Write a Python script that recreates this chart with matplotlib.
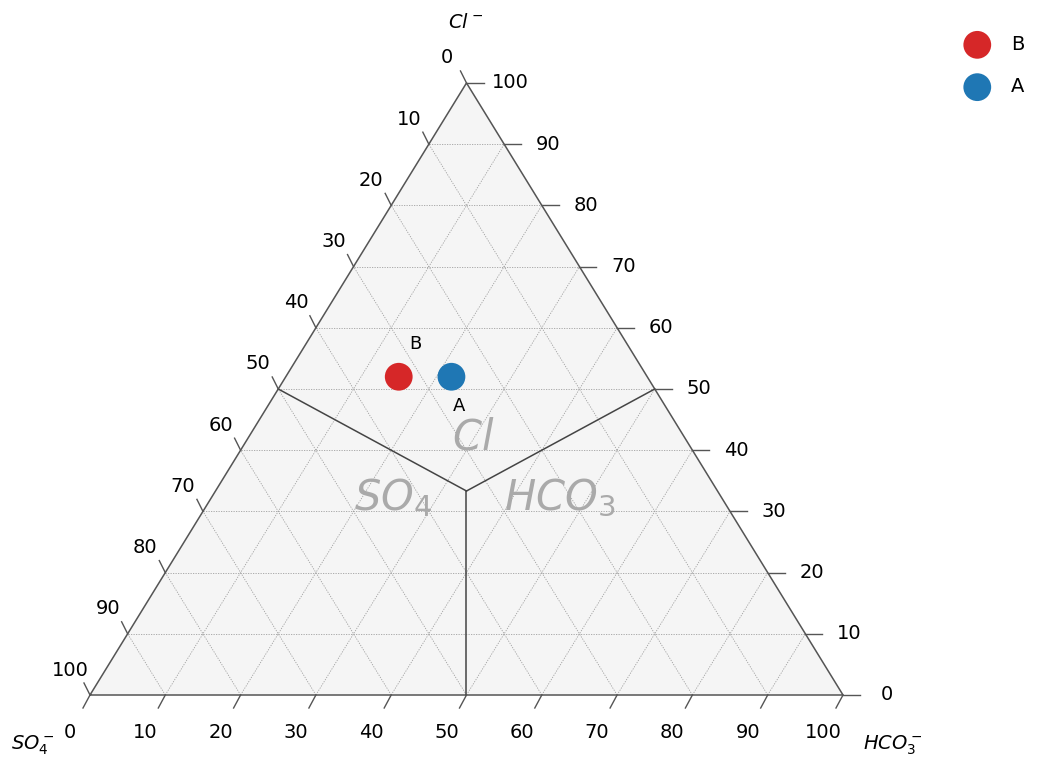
import numpy as np
import matplotlib.pyplot as plt

# sample composition (%), order: Cl, SO4, HCO3
names = ['B', 'A']
cl = [52, 52]
so4 = [33, 26]
hco3 = [15, 22]
colors = ['#d62728', '#1f77b4']
label_offsets = [(17, 33), (8, -29)]  # pixel offsets for point labels

ticks = list(range(0, 101, 10))
H = np.sqrt(3) / 2


def to_xy(c, s, h):
    # bottom axis = HCO3 (left->right), top vertex = Cl
    tot = c + s + h
    c, h = 100.0 * c / tot, 100.0 * h / tot
    return h + c / 2, c * H


fig = plt.figure(figsize=(10.37, 7.58), dpi=100)
ax = fig.add_axes([0, 0, 1, 1])
ax.set_xlim(-90 / 7.53, (1037 - 90) / 7.53)
ax.set_ylim(-(758 - 695) / 7.067, 695 / 7.067)
ax.axis('off')

# triangle
tri_x = [0, 100, 50, 0]
tri_y = [0, 0, 100 * H, 0]
ax.fill(tri_x, tri_y, color='#f5f5f5', zorder=0)

# grid lines
for v in ticks[1:-1]:
    kw = dict(color='#a0a0a0', lw=0.6, ls=(0, (1.5, 1.5)), zorder=1)
    # constant Cl (horizontal)
    ax.plot(*zip(to_xy(v, 100 - v, 0), to_xy(v, 0, 100 - v)), **kw)
    # constant HCO3
    ax.plot(*zip(to_xy(0, 100 - v, v), to_xy(100 - v, 0, v)), **kw)
    # constant SO4
    ax.plot(*zip(to_xy(0, v, 100 - v), to_xy(100 - v, v, 0)), **kw)

ax.plot(tri_x, tri_y, color='#555555', lw=1.1, zorder=2)

# facies boundaries
cx, cy = to_xy(1, 1, 1)
for p in [to_xy(50, 50, 0), to_xy(50, 0, 50), to_xy(0, 50, 50)]:
    ax.plot([cx, p[0]], [cy, p[1]], color='#444444', lw=1.1, zorder=2)

ax.text(50.9, 36.5, '$Cl$', fontsize=30, color='#aaaaaa',
        ha='center', va='center', zorder=2)
ax.text(40.2, 27.9, '$SO_4$', fontsize=30, color='#aaaaaa',
        ha='center', va='center', zorder=2)
ax.text(62.4, 27.9, '$HCO_3$', fontsize=30, color='#aaaaaa',
        ha='center', va='center', zorder=2)

# ticks and tick labels
tick_kw = dict(color='#555555', lw=1.0, clip_on=False)
for v in ticks:
    # bottom: HCO3
    x, y = to_xy(0, 100 - v, v)
    ax.plot([x, x - 0.93], [y, y - 1.84], **tick_kw)
    ax.annotate(str(v), (x, y), xytext=(-20, -38), textcoords='offset pixels',
                ha='center', va='center', fontsize=14)
    # left: SO4
    x, y = to_xy(100 - v, v, 0)
    ax.plot([x, x - 0.8], [y, y + 1.7], **tick_kw)
    ax.annotate(str(v), (x, y), xytext=(-20, 25), textcoords='offset pixels',
                ha='center', va='center', fontsize=14)
    # right: Cl
    x, y = to_xy(v, 0, 100 - v)
    ax.plot([x, x + 2.26], [y, y], **tick_kw)
    ax.annotate(str(v), (x, y), xytext=(44, 0), textcoords='offset pixels',
                ha='center', va='center', fontsize=14)

# axis titles
fig.text(466 / 1037, 1 - 22 / 758, '$Cl^-$', fontsize=14, ha='center', va='center')
fig.text(33 / 1037, 1 - 745 / 758, '$SO_4^-$', fontsize=14, ha='center', va='center')
fig.text(893 / 1037, 1 - 745 / 758, '$HCO_3^-$', fontsize=14, ha='center', va='center')

# samples
for n, c, s, h, col, off in zip(names, cl, so4, hco3, colors, label_offsets):
    x, y = to_xy(c, s, h)
    ax.scatter([x], [y], s=400, color=col, label=n, zorder=5, edgecolors='none')
    ax.annotate(n, (x, y), xytext=off, textcoords='offset pixels',
                ha='center', va='center', fontsize=13, zorder=6)

fig.legend(loc='upper right', bbox_to_anchor=(1.005, 0.977), frameon=False,
           fontsize=14, handletextpad=0.75, labelspacing=1.2)

fig.savefig('out.png', dpi=100)
